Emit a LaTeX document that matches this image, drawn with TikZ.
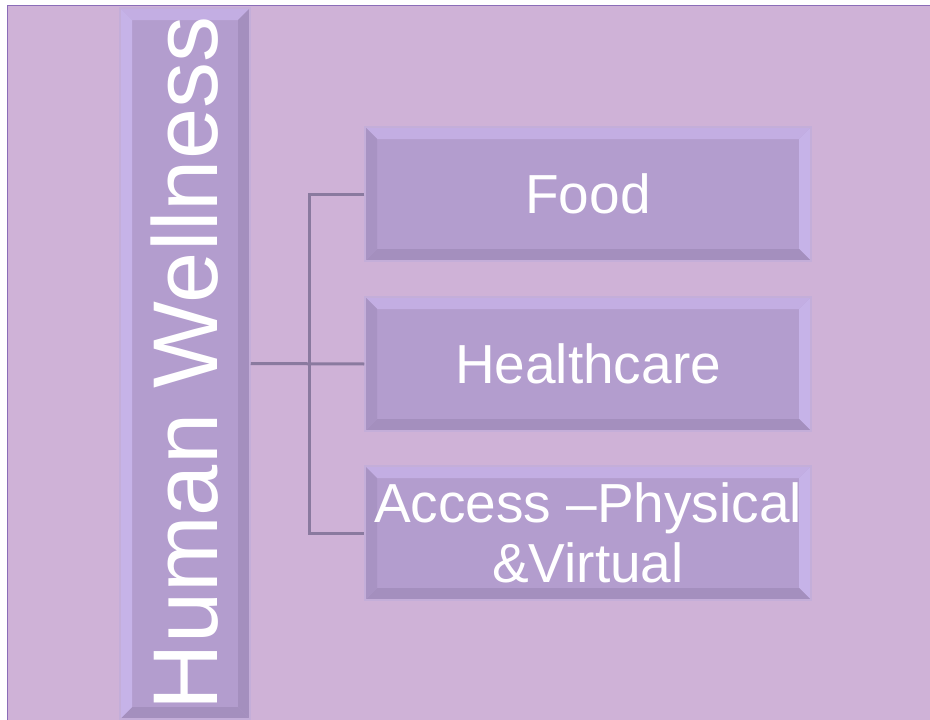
\documentclass[tikz,border=0pt]{standalone}
\usepackage{fontspec}
\setmainfont{Liberation Sans}
\usetikzlibrary{calc}

\definecolor{pagebg}{HTML}{CFB2D7}
\definecolor{framecol}{HTML}{8B6DB8}
\definecolor{boxfill}{HTML}{B39DCE}
\definecolor{boxrim}{HTML}{C4AED9}
\definecolor{bevlight}{HTML}{C3AEE3}
\definecolor{bevpale}{HTML}{C6B3E8}
\definecolor{bevdark}{HTML}{A893C3}
\definecolor{bevdeep}{HTML}{A48FBE}
\definecolor{linkcol}{HTML}{8A7A9F}

% bevel: colours of top, right, bottom, left rims
\tikzset{bevel/.style n args={4}{path picture={
  \coordinate (pnw) at (path picture bounding box.north west);
  \coordinate (pne) at (path picture bounding box.north east);
  \coordinate (pse) at (path picture bounding box.south east);
  \coordinate (psw) at (path picture bounding box.south west);
  \fill[#1] (pnw) -- (pne) -- ($(pne)+(-12,12)$) -- ($(pnw)+(12,12)$) -- cycle;
  \fill[#2] (pne) -- (pse) -- ($(pse)+(-12,-12)$) -- ($(pne)+(-12,12)$) -- cycle;
  \fill[#3] (pse) -- (psw) -- ($(psw)+(12,-12)$) -- ($(pse)+(-12,-12)$) -- cycle;
  \fill[#4] (psw) -- (pnw) -- ($(pnw)+(12,12)$) -- ($(psw)+(12,-12)$) -- cycle;
}}}

\begin{document}
\begin{tikzpicture}[x=1pt,y=-1pt]
  \tikzstyle{topic}=[draw=boxrim,line width=1.5pt,fill=boxfill,inner sep=0pt,text=white,
    minimum width=446pt,minimum height=134pt,align=center,font=\fontsize{55}{60}\selectfont,
    bevel={bevlight}{bevpale}{bevdeep}{bevdark}]
  \tikzstyle{edge}=[draw=linkcol,line width=3pt]

  \useasboundingbox (0,0) rectangle (930,720);
  \fill[white] (0,0) rectangle (930,720);
  \draw[fill=pagebg,draw=framecol,line width=1.5pt] (7.5,5.5) rectangle (940,730);

  \node [topic,minimum width=130pt,minimum height=711pt,bevel={bevlight}{bevdeep}{bevdeep}{bevpale}]
    (wellness) at (185,363.5) {\rotatebox{90}{\fontsize{92}{92}\selectfont Human Wellness}};
  \node [topic] (food) at (588,194) {Food};
  \node [topic] (care) at (588,364) {Healthcare};
  \node [topic] (access) at (588,533) {Access –Physical\\\&Virtual};

  \coordinate (trunk) at (309,364);
  \path[edge] (wellness.east) -- (care.west);
  \path[edge] (food.west) -| (trunk) |- (access.west);
\end{tikzpicture}
\end{document}
